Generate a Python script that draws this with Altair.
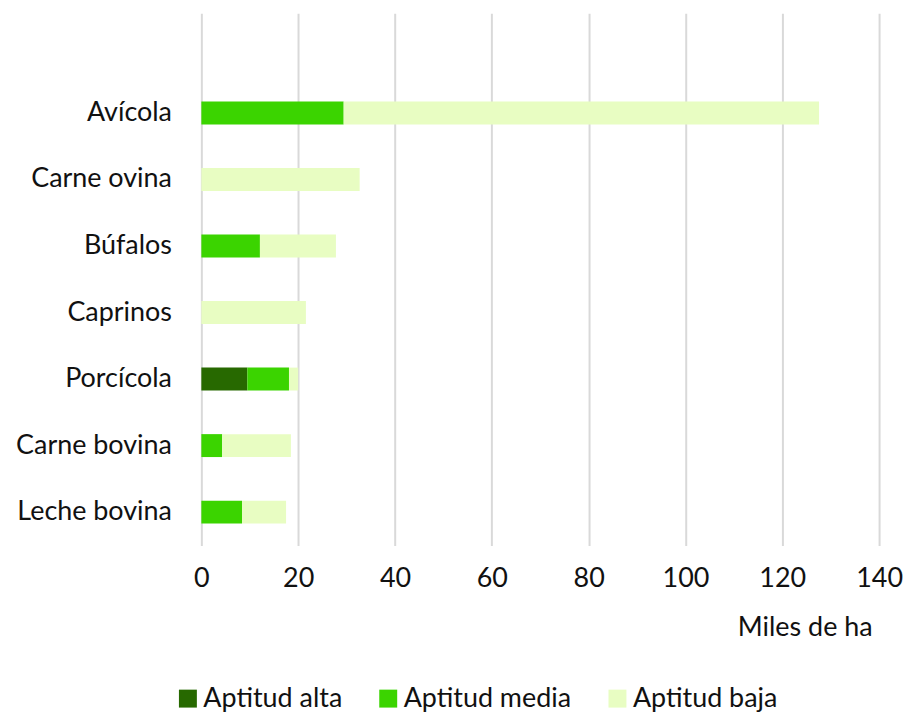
import altair as alt
import pandas as pd

categories = ["Avícola", "Carne ovina", "Búfalos", "Caprinos", "Porcícola", "Carne bovina", "Leche bovina"]
alta = [0, 0, 0, 0, 9.5, 0, 0]
media = [29.4, 0, 12.1, 0, 8.6, 4.3, 8.4]
baja = [98.2, 32.7, 15.7, 21.6, 1.9, 14.2, 9.1]
series = ["Aptitud alta", "Aptitud media", "Aptitud baja"]
colors = ["#276900", "#3bd400", "#e8fdc2"]
x_ticks = [0, 20, 40, 60, 80, 100, 120, 140]

rows = []
for i, c in enumerate(categories):
    for j, (s, vals) in enumerate(zip(series, [alta, media, baja])):
        if vals[i] > 0:
            rows.append({"cat": c, "serie": s, "val": vals[i], "ord": j})
df = pd.DataFrame(rows)

font = "Lato"
fs = 27

chart = alt.Chart(df).mark_bar(size=23).encode(
    x=alt.X("val:Q", stack="zero",
            scale=alt.Scale(domain=[0, 140], nice=False),
            axis=alt.Axis(values=x_ticks, title="Miles de ha", titleX=673, titleAlign="right",
                          titleFontWeight="normal", titleFontSize=fs, titlePadding=23,
                          labelFontSize=fs, labelPadding=20, labelFlush=False, ticks=False, domain=False,
                          gridColor="#d9d9d9", gridWidth=2, labelColor="#111111",
                          titleColor="#111111")),
    y=alt.Y("cat:N", scale=alt.Scale(domain=[" "] + categories, paddingInner=0, paddingOuter=0),
            axis=alt.Axis(title=None, labelFontSize=fs, labelPadding=30, ticks=False,
                          domain=False, grid=False, labelColor="#111111")),
    color=alt.Color("serie:N", scale=alt.Scale(domain=series, range=colors),
                    legend=alt.Legend(orient="none", legendX=-27, legendY=674, direction="horizontal",
                                      title=None, symbolType="square",
                                      symbolSize=324, symbolStrokeWidth=0, labelFontSize=fs,
                                      labelLimit=400, labelOffset=2, columnPadding=32,
                                      labelColor="#111111")),
    order=alt.Order("ord:Q"),
).properties(
    width=680, height=534,
    padding={"left": 7, "top": 4, "right": 0, "bottom": 0},
).configure(font=font).configure_view(stroke=None)

chart.save("out.html", embed_options={"renderer": "svg", "actions": False})
